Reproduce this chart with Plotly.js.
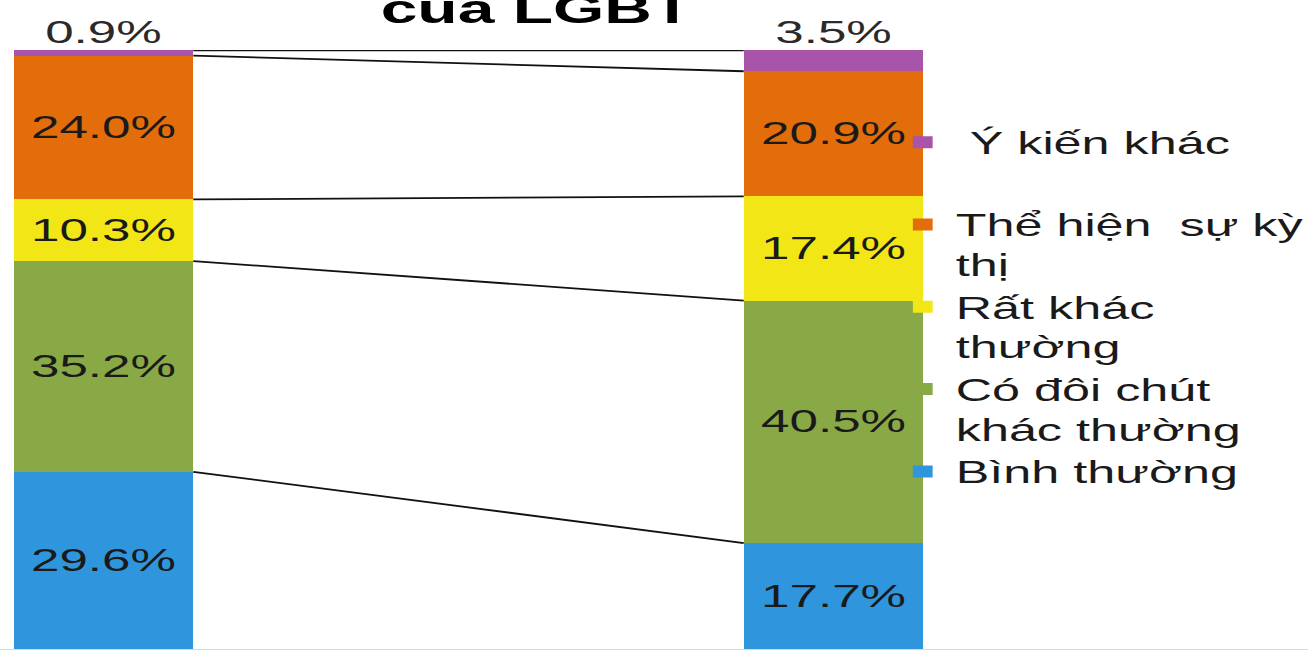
<!DOCTYPE html>
<html>
<head>
<meta charset="utf-8">
<script src="https://cdn.plot.ly/plotly-3.0.1.min.js"></script>
<style>
  html, body { margin: 0; padding: 0; background: #fff; overflow: hidden; }
  #wrap { width: 1308px; height: 651px; overflow: hidden; }
  #chart { width: 793px; height: 651px; transform: scaleX(1.65); transform-origin: 0 0; }
</style>
</head>
<body>
<div id="wrap"><div id="chart"></div></div>
<script>
// ---- data ----
const categories = ['Nhóm 1', 'Nhóm 2'];
const seriesNames = ['Bình thường', 'Có đôi chút khác thường', 'Rất khác thường', 'Thể hiện sự kỳ thị', 'Ý kiến khác'];
const legendLabels = ['Bình thường<br> ', 'Có đôi chút<br>khác thường', 'Rất khác<br>thường', 'Thể hiện  sự kỳ<br>thị', ' Ý kiến khác<br> '];
const binhThuong = [29.6, 17.7];
const coDoiChut = [35.2, 40.5];
const ratKhac = [10.3, 17.4];
const theHien = [24.0, 20.9];
const yKien = [0.9, 3.5];
const seriesColors = ['#2F96DD', '#89A846', '#F2E616', '#E36C0B', '#A754AA'];
const chartTitle = 'của LGBT';

// ---- build ----
const FONT = 'Liberation Sans, Arial, sans-serif';
const series = [binhThuong, coDoiChut, ratKhac, theHien, yKien];
const xs = categories.map((c, i) => i);
const barW = 0.246;
const r1 = v => Math.round(v * 10) / 10;
const traces = [];
series.forEach((vals, k) => {
  const isTop = k === series.length - 1;
  traces.push({
    type: 'bar',
    x: xs,
    y: vals,
    width: barW,
    name: legendLabels[k],
    marker: { color: seriesColors[k] },
    text: isTop ? null : vals.map(v => v.toFixed(1) + '%'),
    textposition: isTop ? 'none' : 'inside',
    insidetextanchor: 'middle',
    textangle: 0,
    constraintext: 'none',
    insidetextfont: { family: FONT, size: 31, color: '#1a1a1a' },
    hoverinfo: 'skip'
  });
});
// series lines connecting the top of each segment
let cum = [0, 0];
series.forEach((vals, k) => {
  cum = cum.map((c, i) => r1(c + vals[i]));
  traces.push({
    type: 'scatter',
    mode: 'lines',
    x: [xs[0] + barW / 2, xs[1] - barW / 2],
    y: cum.slice(),
    line: { color: '#111', width: 1.8 },
    showlegend: false,
    cliponaxis: false,
    hoverinfo: 'skip'
  });
});
// labels of the top segment, above the stacks
traces.push({
  type: 'scatter',
  mode: 'text',
  x: xs,
  y: cum.slice(),
  text: yKien.map(v => v.toFixed(1) + '%'),
  textposition: 'top center',
  textfont: { family: FONT, size: 31, color: '#2a2a2a' },
  cliponaxis: false,
  showlegend: false,
  hoverinfo: 'skip'
});

const layout = {
  width: 793,
  height: 651,
  margin: { l: 0, r: 0, t: 50, b: 2, autoexpand: false },
  paper_bgcolor: '#fff',
  plot_bgcolor: '#fff',
  barmode: 'stack',
  showlegend: true,
  title: {
    text: '<b>' + chartTitle + '</b>',
    font: { family: FONT, size: 40, color: '#000' },
    xref: 'container', x: 0.41, xanchor: 'center',
    yref: 'container', y: 0.964, yanchor: 'bottom'
  },
  xaxis: {
    range: [-0.1417, 1.6504],
    showticklabels: false, ticks: '', showgrid: false, zeroline: false,
    showline: true, linecolor: '#d9d9d9', linewidth: 1, fixedrange: true
  },
  yaxis: { range: [0, 100.05], visible: false, fixedrange: true },
  legend: {
    x: 0.68, xanchor: 'left',
    y: 0.89, yanchor: 'top',
    traceorder: 'reversed',
    valign: 'top',
    font: { family: FONT, size: 30.5, color: '#1a1a1a' },
    bgcolor: 'rgba(0,0,0,0)',
    itemclick: false, itemdoubleclick: false
  },
  hovermode: false
};

Plotly.newPlot('chart', traces, layout, { staticPlot: true, displayModeBar: false });
</script>
</body>
</html>
